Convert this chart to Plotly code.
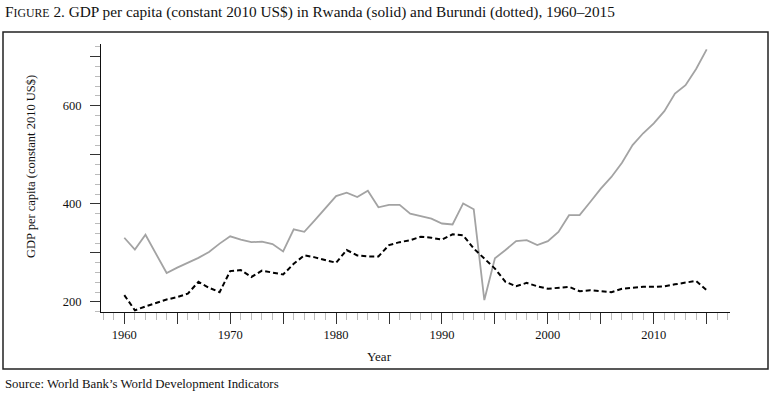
import plotly.graph_objects as go

years = list(range(1960, 2016))
rwanda = [331, 307, 337, 298, 259, 270, 280, 290, 302, 319,
          334, 327, 322, 323, 318, 303, 348, 343, 367, 391,
          416, 423, 414, 427, 393, 398, 398, 380, 375, 370,
          360, 358, 401, 389, 204, 289, 306, 324, 326, 316,
          324, 343, 377, 377, 404, 431, 455, 484, 520, 544,
          564, 589, 625, 642, 675, 715]
burundi = [214, 183, 191, 198, 205, 210, 217, 241, 229, 220,
           263, 265, 251, 264, 260, 256, 278, 295, 291, 285,
           280, 306, 295, 293, 293, 316, 322, 326, 333, 331,
           327, 338, 336, 309, 289, 268, 241, 232, 239, 232,
           227, 229, 231, 222, 224, 222, 220, 227, 229, 231,
           231, 232, 236, 240, 243, 224]

x_major = list(range(1960, 2016, 5))
x_labels = [str(v) if v % 10 == 0 else "" for v in x_major]
y_major = [200, 300, 400, 500, 600, 700]
y_labels = ["200", "", "400", "", "600", ""]

title_text = ('F<span style="font-size:11.8px">IGURE</span> 2. GDP per capita (constant 2010 US$) '
              'in Rwanda (solid) and Burundi (dotted), 1960–2015')
source_text = "Source: World Bank’s World Development Indicators"

FONT = "Liberation Serif"

fig = go.Figure()
fig.add_trace(go.Scatter(x=years, y=rwanda, mode="lines",
                         line=dict(color="#a3a3a3", width=1.8), name="Rwanda"))
fig.add_trace(go.Scatter(x=years, y=burundi, mode="lines",
                         line=dict(color="#000000", width=2, dash="5px,3px"), name="Burundi"))

L, R, T, B = 101, 42, 44, 85
W, H = 772, 397
pw, ph = W - L - R, H - T - B

def px_x(p):
    return (p - L) / pw

def px_y(p):
    return (H - B - p) / ph

fig.update_layout(
    width=W, height=H,
    margin=dict(l=L, r=R, t=T, b=B, autoexpand=False),
    paper_bgcolor="white", plot_bgcolor="white",
    showlegend=False,
    font=dict(family=FONT, size=12, color="#111"),
    xaxis=dict(range=[1957.8, 2017.2], showgrid=False, zeroline=False, automargin=False,
               showline=True, linecolor="#111", linewidth=1,
               tickmode="array", tickvals=x_major, ticktext=x_labels,
               ticks="outside", ticklen=11, tickcolor="#333", tickwidth=1,
               tickfont=dict(family=FONT, size=12.5, color="#111"),
               minor=dict(tickmode="linear", tick0=1958, dtick=1, ticks="outside",
                          ticklen=7, tickcolor="#bbbbbb", tickwidth=1, showgrid=False)),
    yaxis=dict(range=[179.6, 726], showgrid=False, zeroline=False, automargin=False,
               showline=True, linecolor="#111", linewidth=1,
               tickmode="array", tickvals=y_major, ticktext=y_labels,
               ticks="outside", ticklen=10, tickcolor="#333", tickwidth=1,
               ticklabelstandoff=6,
               tickfont=dict(family=FONT, size=12.5, color="#111"),
               minor=dict(tickmode="linear", tick0=200, dtick=20, ticks="outside",
                          ticklen=5, tickcolor="#bbbbbb", tickwidth=1, showgrid=False)),
)

fig.add_annotation(text=title_text, xref="paper", yref="paper",
                   x=px_x(3), y=px_y(12), xanchor="left", yanchor="middle",
                   showarrow=False, font=dict(family=FONT, size=15.3, color="#111"))
fig.add_annotation(text=source_text, xref="paper", yref="paper",
                   x=px_x(3), y=px_y(384), xanchor="left", yanchor="middle",
                   showarrow=False, font=dict(family=FONT, size=12.8, color="#111"))
fig.add_annotation(text="Year", xref="paper", yref="paper",
                   x=px_x(379), y=px_y(356), xanchor="center", yanchor="middle",
                   showarrow=False, font=dict(family=FONT, size=13, color="#111"))
fig.add_annotation(text="GDP per capita (constant 2010 US$)", xref="paper", yref="paper",
                   x=px_x(31), y=px_y(167), xanchor="center", yanchor="middle", textangle=-90,
                   showarrow=False, font=dict(family=FONT, size=12.5, color="#111"))

fig.add_shape(type="rect", xref="paper", yref="paper",
              x0=px_x(3), x1=px_x(768), y0=px_y(369), y1=px_y(32),
              line=dict(color="#222", width=1.5), fillcolor="rgba(0,0,0,0)", layer="below")

fig.write_html("out.html", config={"displayModeBar": False},
               post_script="document.body.style.margin='0';document.body.style.overflow='hidden';")
